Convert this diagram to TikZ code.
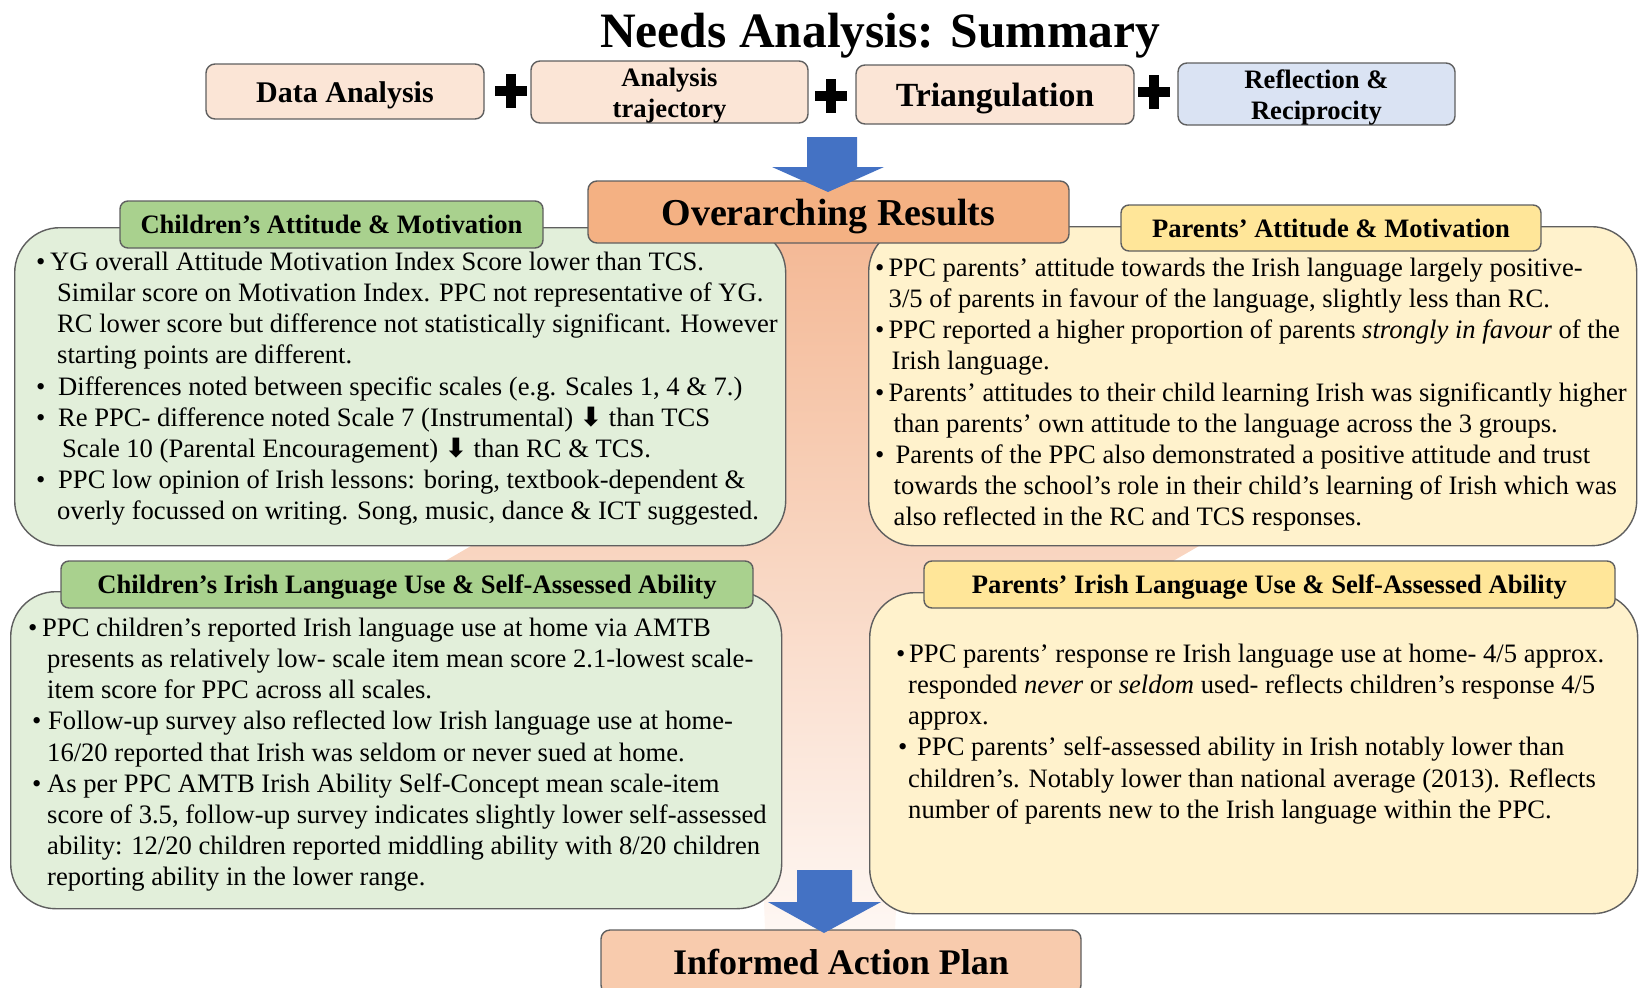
\documentclass[tikz,border=0pt]{standalone}
\usepackage{fontspec}
\setmainfont{Liberation Serif}
\newfontfamily\arrowfont{DejaVu Sans}
\definecolor{peachL}{HTML}{FBE5D6}
\definecolor{blueL}{HTML}{DAE3F3}
\definecolor{greenL}{HTML}{E2EFDA}
\definecolor{greenH}{HTML}{A9D18E}
\definecolor{yellowL}{HTML}{FFF2CC}
\definecolor{yellowH}{HTML}{FFE699}
\definecolor{overC}{HTML}{F4B183}
\definecolor{infC}{HTML}{F8CBAD}
\definecolor{arrowC}{HTML}{4472C4}
\definecolor{bordc}{HTML}{5F5F5F}
\definecolor{bgA}{HTML}{F4B996}
\definecolor{bgB}{HTML}{FEF7F3}
\newcommand{\bl}[1]{\makebox[#1][l]{\textbullet}}
\newcommand{\ct}[1]{\hspace*{#1}}
\newcommand{\dn}{{\arrowfont\bfseries ⬇}}
\newcommand{\fs}[2]{\fontsize{#1pt}{#2pt}\selectfont}
\newcommand{\dropby}[2]{\raisebox{-#1}[\height][\depth]{#2}}
\newcommand{\twol}[2]{\dropby{3.5pt}{\setlength{\tabcolsep}{0pt}\begin{tabular}{c}#1\\#2\end{tabular}}}
\tikzset{
  bord/.style={draw=bordc, line width=1.4pt},
  topbox/.style={bord, rounded corners=9pt, fill=peachL, inner sep=0pt, align=center, font=\bfseries\fs{26.6}{31}},
  bigbox/.style={bord, rounded corners=45pt, inner sep=0pt, anchor=north west},
  hdr/.style={bord, rounded corners=8pt, inner sep=0pt, font=\bfseries\fs{26.6}{31}},
  body/.style={anchor=north west, inner sep=0pt, align=left, font=\fs{26.6}{31.2}},
  mainbox/.style={bord, rounded corners=9pt, inner sep=0pt},
  plussign/.pic={\fill[black] (-16,-5) rectangle (16,5); \fill[black] (-5,-17) rectangle (5,17);},
  blockarrow/.style={fill=arrowC}
}
\begin{document}
\begin{tikzpicture}[x=1pt,y=-1pt]
\useasboundingbox (0,0) rectangle (1639,988);
% background shape (band from y 238 to 930)
\shade[top color=bgA, bottom color=bgB]
  (740,238) -- (930,238) -- (895,930) -- (765,930) -- cycle;
\shade[top color=bgA!59!bgB, bottom color=bgA!45!bgB]
  (516,520) -- (1244,520) -- (1071,620) -- (343,620) -- cycle;
% title
\node[font=\bfseries\fs{49.5}{55}, anchor=base] (title) at (880,47) {Needs Analysis: Summary};
% top row
\node[topbox, minimum width=278, minimum height=55, font=\bfseries\fs{30}{32}] (tDA) at (345,91.5) {\dropby{4pt}{Data Analysis}};
\node[topbox, minimum width=277, minimum height=56] (tAT) at (669.5,92) {\twol{Analysis}{trajectory}};
\node[topbox, minimum width=278, minimum height=59, font=\bfseries\fs{33.8}{36}] (tTR) at (995,94.5) {\dropby{4pt}{Triangulation}};
\node[topbox, fill=blueL, minimum width=277, minimum height=56] (tRR) at (1316.5,94) {\twol{Reflection \&}{Reciprocity}};
\pic at (511,91) {plussign};
\pic at (831,96) {plussign};
\pic at (1154,92) {plussign};
% big boxes
\node[bigbox, fill=greenL, minimum width=771, minimum height=318] (bLA) at (14,227) {};
\node[bigbox, fill=yellowL, minimum width=768, minimum height=319] (bPA) at (868,226) {};
\node[bigbox, fill=greenL, minimum width=771, minimum height=317] (bLB) at (10,591) {};
\node[bigbox, fill=yellowL, minimum width=768, minimum height=321] (bPB) at (869,592) {};
% headers
\node[hdr, fill=greenH, minimum width=423, minimum height=47] (hLA) at (331.5,224.5) {Children’s Attitude \& Motivation};
\node[hdr, fill=yellowH, minimum width=420, minimum height=46] (hPA) at (1331,228) {Parents’ Attitude \& Motivation};
\node[hdr, fill=greenH, minimum width=692, minimum height=47] (hLB) at (407,584.5) {\dropby{3pt}{Children’s Irish Language Use \& Self-Assessed Ability}};
\node[hdr, fill=yellowH, minimum width=691, minimum height=47] (hPB) at (1269.5,584.5) {\dropby{3pt}{Parents’ Irish Language Use \& Self-Assessed Ability}};
% overarching results
\node[mainbox, fill=overC, minimum width=481, minimum height=62, font=\bfseries\fs{38}{40}] (over) at (828.5,212) {\dropby{5pt}{Overarching Results}};
\fill[blockarrow] (807,137) -- (857,137) -- (857,167) -- (884,167) -- (828,192) -- (772,167) -- (807,167) -- cycle;
% informed action plan
\node[mainbox, fill=infC, minimum width=480, minimum height=64, font=\bfseries\fs{36}{38}] (plan) at (841,962) {Informed Action Plan};
\fill[blockarrow] (797,870) -- (852,870) -- (852,902) -- (881,902) -- (824,933) -- (768,902) -- (797,902) -- cycle;
% body texts
\node[body] (xLA) at (36,248) {\rule{0pt}{22pt}\bl{14pt}YG overall Attitude Motivation Index Score lower than TCS.\\
\ct{21pt}Similar score on Motivation Index. PPC not representative of YG.\\
\ct{21pt}RC lower score but difference not statistically significant. However\\
\ct{21pt}starting points are different.\\
\bl{22pt}Differences noted between specific scales (e.g. Scales 1, 4 \& 7.)\\
\bl{22pt}Re PPC- difference noted Scale 7 (Instrumental) \dn{} than TCS\\
\ct{26pt}Scale 10 (Parental Encouragement) \dn{} than RC \& TCS.\\
\bl{22pt}PPC low opinion of Irish lessons: boring, textbook-dependent \&\\
\ct{21pt}overly focussed on writing. Song, music, dance \& ICT suggested.};
\node[body] (xPA) at (875,254) {\rule{0pt}{22pt}\bl{13.5pt}PPC parents’ attitude towards the Irish language largely positive-\\
\ct{13.5pt}3/5 of parents in favour of the language, slightly less than RC.\\
\bl{13.5pt}PPC reported a higher proportion of parents \textit{strongly in favour} of the\\
\ct{16.5pt}Irish language.\\
\bl{13.5pt}Parents’ attitudes to their child learning Irish was significantly higher\\
\ct{18.5pt}than parents’ own attitude to the language across the 3 groups.\\
\bl{20.5pt}Parents of the PPC also demonstrated a positive attitude and trust\\
\ct{18.5pt}towards the school’s role in their child’s learning of Irish which was\\
\ct{18.5pt}also reflected in the RC and TCS responses.};
\node[body] (xLB) at (28,614) {\rule{0pt}{22pt}\bl{14pt}PPC children’s reported Irish language use at home via AMTB\\
\ct{19pt}presents as relatively low- scale item mean score 2.1-lowest scale-\\
\ct{19pt}item score for PPC across all scales.\\
\ct{4pt}\bl{16pt}Follow-up survey also reflected low Irish language use at home-\\
\ct{19pt}16/20 reported that Irish was seldom or never sued at home.\\
\ct{4pt}\bl{15pt}As per PPC AMTB Irish Ability Self-Concept mean scale-item\\
\ct{19pt}score of 3.5, follow-up survey indicates slightly lower self-assessed\\
\ct{19pt}ability: 12/20 children reported middling ability with 8/20 children\\
\ct{19pt}reporting ability in the lower range.};
\node[body] (xPB) at (896,640) {\rule{0pt}{22pt}\bl{13pt}PPC parents’ response re Irish language use at home- 4/5 approx.\\
\ct{12pt}responded \textit{never} or \textit{seldom} used- reflects children’s response 4/5\\
\ct{12pt}approx.\\
\ct{2pt}\bl{19pt}PPC parents’ self-assessed ability in Irish notably lower than\\
\ct{12pt}children’s. Notably lower than national average (2013). Reflects\\
\ct{12pt}number of parents new to the Irish language within the PPC.};
\end{tikzpicture}
\end{document}
